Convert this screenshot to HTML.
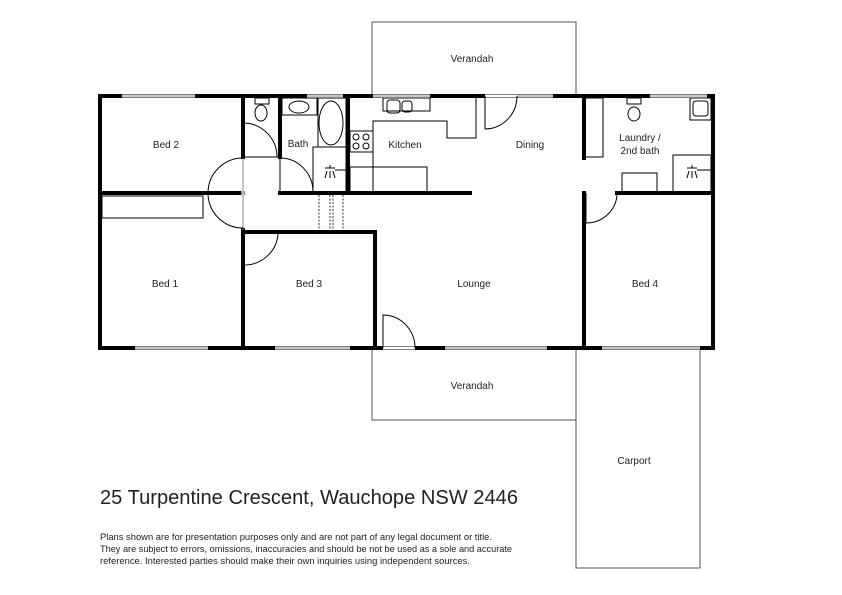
<!DOCTYPE html>
<html><head><meta charset="utf-8"><style>
html,body{margin:0;padding:0;background:#fff;}
svg{display:block;}
text{font-family:"Liberation Sans",sans-serif;fill:#222;}
</style></head><body>
<svg width="842" height="595" viewBox="0 0 842 595" xmlns="http://www.w3.org/2000/svg">
<g fill="none" stroke="#555" stroke-width="1">
<rect x="372" y="22" width="204" height="74"/>
<rect x="372" y="348" width="204" height="72"/>
<rect x="576" y="348" width="124" height="220"/>
</g>
<g stroke="#000" stroke-width="4" fill="none" stroke-linecap="square">
<rect x="100" y="96" width="613" height="252"/>
<line x1="100" y1="193" x2="243" y2="193"/>
<line x1="243" y1="96" x2="243" y2="157"/>
<line x1="243" y1="230" x2="243" y2="348"/>
<line x1="280" y1="96" x2="280" y2="157"/>
<line x1="348" y1="96" x2="348" y2="192"/>
<line x1="280" y1="193" x2="470" y2="193"/>
<line x1="243" y1="232" x2="375" y2="232"/>
<line x1="375" y1="232" x2="375" y2="348"/>
<line x1="584" y1="96" x2="584" y2="158"/>
<line x1="584" y1="193" x2="584" y2="348"/>
<line x1="617" y1="193" x2="713" y2="193"/>
</g>
<g stroke="#fff" stroke-width="3">
<line x1="122" y1="96" x2="195" y2="96"/>
<line x1="307" y1="96" x2="343" y2="96"/>
<line x1="373" y1="96" x2="430" y2="96"/>
<line x1="485" y1="96" x2="553" y2="96"/>
<line x1="650" y1="96" x2="707" y2="96"/>
<line x1="135" y1="348" x2="208" y2="348"/>
<line x1="275" y1="348" x2="350" y2="348"/>
<line x1="383" y1="348" x2="415" y2="348"/>
<line x1="445" y1="348" x2="547" y2="348"/>
<line x1="602" y1="348" x2="700" y2="348"/>
<line x1="243" y1="159" x2="243" y2="228"/>
</g>
<g stroke="#888" stroke-width="1">
<line x1="122" y1="96" x2="195" y2="96"/>
<line x1="307" y1="96" x2="343" y2="96"/>
<line x1="373" y1="96" x2="430" y2="96"/>
<line x1="517" y1="96" x2="553" y2="96"/>
<line x1="650" y1="96" x2="707" y2="96"/>
<line x1="135" y1="348" x2="208" y2="348"/>
<line x1="275" y1="348" x2="350" y2="348"/>
<line x1="445" y1="348" x2="547" y2="348"/>
<line x1="602" y1="348" x2="700" y2="348"/>
<line x1="243" y1="157" x2="243" y2="230"/>
</g>
<g stroke="#000" stroke-width="1" fill="none">
<path d="M243,158 A35,35 0 0 0 243,228"/>
<path d="M243,123 A34,34 0 0 1 277,157"/>
<path d="M280,158 L280,192 M280,158 A33,34 0 0 1 313,192"/>
<path d="M243,265 A34,33 0 0 0 278,232"/>
<path d="M383,348 L383,315 A32,33 0 0 1 415,348"/>
<path d="M485,96 L485,129 A32,33 0 0 0 517,96"/>
<path d="M586,193 L586,223 A31,30 0 0 0 617,193"/>
<line x1="243" y1="157" x2="280" y2="157"/>
</g>
<g stroke="#000" stroke-width="1" fill="none">
<rect x="102" y="196" width="101" height="22"/>
<rect x="255" y="98" width="14" height="6"/>
<ellipse cx="261" cy="113" rx="6" ry="8"/>
<rect x="282" y="98" width="35" height="17"/>
<ellipse cx="299" cy="107" rx="10" ry="6"/>
<rect x="318" y="98" width="28" height="49"/>
<ellipse cx="331" cy="123" rx="12" ry="22"/>
<rect x="313" y="147" width="33" height="45"/>
<path d="M325,168 L335,168 M330,168 L330,165 M327,171 L325,178 M330,171 L330,178 M333,171 L335,178"/>
<line x1="335" y1="170" x2="346" y2="170"/>
<rect x="383" y="98" width="47" height="13"/>
<rect x="387" y="100" width="13" height="13" rx="3"/>
<rect x="402" y="101" width="10" height="11" rx="3"/>
<path d="M373,193 L373,121 L447,121 L447,138 L476,138 L476,98"/>
<rect x="350" y="131" width="23" height="21"/>
<circle cx="356" cy="137" r="3"/><circle cx="366" cy="137" r="3"/>
<circle cx="356" cy="146" r="3"/><circle cx="366" cy="146" r="3"/>
<rect x="350" y="167" width="77" height="25"/>
<rect x="584" y="98" width="19" height="59"/>
<rect x="627" y="98" width="14" height="6"/>
<ellipse cx="634" cy="114" rx="6" ry="7"/>
<rect x="690" y="98" width="21" height="22"/>
<rect x="693" y="101" width="15" height="15" rx="3"/>
<rect x="622" y="173" width="35" height="19"/>
<rect x="673" y="155" width="38" height="37"/>
<path d="M687,168 L697,168 M692,168 L692,165 M689,171 L687,178 M692,171 L692,178 M695,171 L697,178"/>
<line x1="697" y1="170" x2="711" y2="170"/>
</g>
<g stroke="#000" stroke-width="0.8" stroke-dasharray="2,1.5">
<line x1="319" y1="195" x2="319" y2="230"/>
<line x1="330" y1="195" x2="330" y2="230"/>
<line x1="333" y1="195" x2="333" y2="230"/>
<line x1="343" y1="195" x2="343" y2="230"/>
</g>
<g font-size="10" text-anchor="middle">
<text x="472" y="62">Verandah</text>
<text x="166" y="148">Bed 2</text>
<text x="298" y="147">Bath</text>
<text x="405" y="148">Kitchen</text>
<text x="530" y="148">Dining</text>
<text x="640" y="141">Laundry /</text>
<text x="640" y="154">2nd bath</text>
<text x="165" y="287">Bed 1</text>
<text x="309" y="287">Bed 3</text>
<text x="474" y="287">Lounge</text>
<text x="645" y="287">Bed 4</text>
<text x="472" y="389">Verandah</text>
<text x="634" y="464">Carport</text>
</g>
<text x="100" y="504" font-size="20" textLength="418" lengthAdjust="spacingAndGlyphs">25 Turpentine Crescent, Wauchope NSW 2446</text>
<g font-size="8.8">
<text x="100" y="540" textLength="392" lengthAdjust="spacingAndGlyphs">Plans shown are for presentation purposes only and are not part of any legal document or title.</text>
<text x="100" y="552" textLength="412" lengthAdjust="spacingAndGlyphs">They are subject to errors, omissions, inaccuracies and should be not be used as a sole and accurate</text>
<text x="100" y="564" textLength="370" lengthAdjust="spacingAndGlyphs">reference. Interested parties should make their own inquiries using independent sources.</text>
</g>
</svg>
</body></html>
